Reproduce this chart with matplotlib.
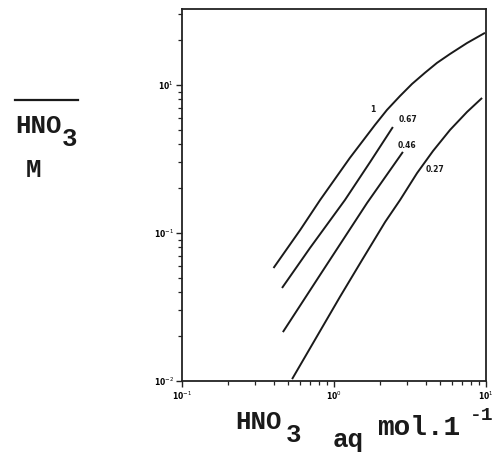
import matplotlib
matplotlib.use("Agg")
import matplotlib.pyplot as plt
from matplotlib.ticker import FixedLocator, FixedFormatter, LogLocator, NullFormatter

# Data (aqueous HNO3 vs organic HNO3, log-log)
x_1 = [0.40, 0.60, 0.81, 1.27, 1.86, 2.23, 2.72, 3.26, 3.97, 4.76, 5.80, 7.50, 9.85]
y_1 = [0.058, 0.105, 0.167, 0.321, 0.537, 0.678, 0.843, 1.016, 1.21, 1.41, 1.62, 1.92, 2.25]

x_067 = [0.455, 0.695, 1.18, 1.73, 2.44]
y_067 = [0.0425, 0.0792, 0.167, 0.302, 0.520]

x_046 = [0.461, 0.809, 1.65, 2.84]
y_046 = [0.0214, 0.0520, 0.1595, 0.353]

x_027 = [0.530, 1.094, 1.53, 2.17, 2.72, 3.52, 4.48, 5.80, 7.50, 9.42]
y_027 = [0.0103, 0.0370, 0.0657, 0.1187, 0.167, 0.254, 0.358, 0.497, 0.657, 0.817]

series_labels = ["1", "0.67", "0.46", "0.27"]
label_x = [1.81, 3.07, 3.03, 4.61]
label_y = [0.678, 0.580, 0.393, 0.267]

xticks = [0.1, 1.0, 10.0]
xtick_labels = ["10$^{-1}$", "10$^{0}$", "10$^{1}$"]
yticks = [0.01, 0.1, 1.0]
ytick_labels = ["10$^{-2}$", "10$^{-1}$", "10$^{1}$"]

W, H = 493, 457
fig = plt.figure(figsize=(W / 100, H / 100), dpi=100)
ax = fig.add_axes([182 / W, 1 - 381 / H, (486 - 182) / W, (381 - 9) / H])
ax.set_xscale("log")
ax.set_yscale("log")
ax.set_xlim(0.1, 10.0)
ax.set_ylim(0.01, 3.26)

for xs, ys in [(x_1, y_1), (x_067, y_067), (x_046, y_046), (x_027, y_027)]:
    ax.plot(xs, ys, color="#1a1a1a", lw=1.4, solid_capstyle="butt",
            solid_joinstyle="round")

for lab, lx, ly in zip(series_labels, label_x, label_y):
    ax.text(lx, ly, lab, fontsize=5.5, fontweight="bold", ha="center", va="center",
            color="#1a1a1a")

for side in ["left", "right", "top", "bottom"]:
    ax.spines[side].set_linewidth(1.3)
    ax.spines[side].set_color("#222222")

ax.xaxis.set_major_locator(FixedLocator(xticks))
ax.xaxis.set_major_formatter(FixedFormatter(xtick_labels))
ax.yaxis.set_major_locator(FixedLocator(yticks))
ax.yaxis.set_major_formatter(FixedFormatter(ytick_labels))
ax.xaxis.set_minor_locator(LogLocator(base=10, subs=range(2, 10)))
ax.yaxis.set_minor_locator(LogLocator(base=10, subs=range(2, 10)))
ax.xaxis.set_minor_formatter(NullFormatter())
ax.yaxis.set_minor_formatter(NullFormatter())
ax.tick_params(which="major", direction="out", length=4, width=1.0, color="#222222",
               labelsize=5.5, pad=2)
ax.tick_params(which="minor", direction="out", length=3, width=0.9, color="#222222")
for t in ax.get_xticklabels() + ax.get_yticklabels():
    t.set_fontweight("bold")

mono = "Liberation Mono"

def ftext(px, py, s, size=18.5, **kw):
    fig.text(px / W, 1 - py / H, s, fontsize=size, family=mono, color="#1a1a1a",
             fontweight="bold", **kw)

# y-axis label: overlined HNO3 and M
ftext(15, 133, "HNO", va="baseline")
ftext(62, 146, "3", va="baseline")
fig.add_artist(plt.Line2D([15 / W, 78 / W], [1 - 100 / H, 1 - 100 / H],
                          color="#1a1a1a", lw=1.6, transform=fig.transFigure))
ftext(26, 177, "M", va="baseline")

# x-axis label
ftext(235, 429, "HNO", va="baseline")
ftext(286, 442, "3", va="baseline")
ftext(333, 447, "aq", va="baseline")
ftext(377, 435, "mol.1", size=20, va="baseline")
ftext(470, 420, "-1", size=14, va="baseline")

fig.savefig("out.png", dpi=100, facecolor="white")
